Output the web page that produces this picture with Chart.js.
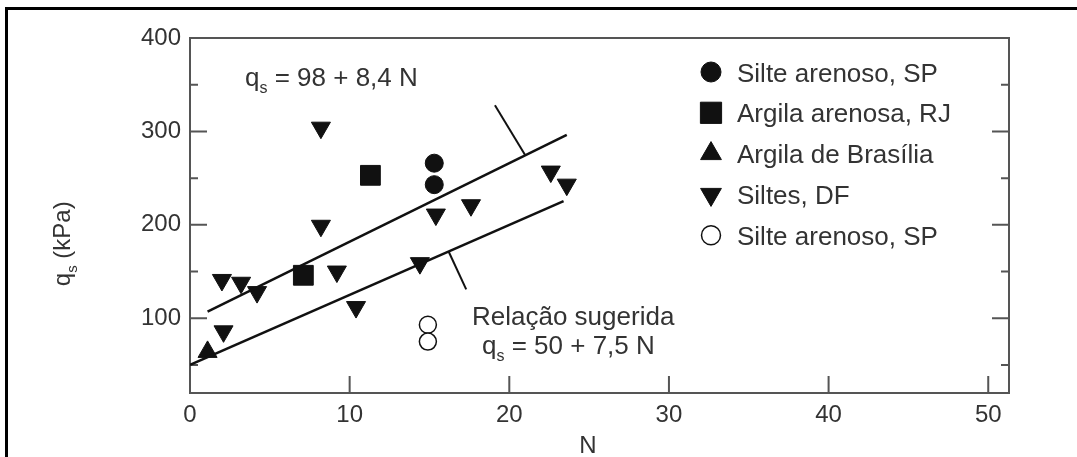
<!DOCTYPE html>
<html>
<head>
<meta charset="utf-8">
<script src="https://cdn.jsdelivr.net/npm/chart.js@4.4.1/dist/chart.umd.min.js"></script>
<style>
  html, body { margin: 0; padding: 0; background: #fff; }
  #wrap { width: 1077px; height: 457px; }
</style>
</head>
<body>
<div id="wrap"><canvas id="qsChart" width="1077" height="457"></canvas></div>
<script>
const FONTE = "'Liberation Sans', Arial, Helvetica, sans-serif";
const TINTA = "#111";
const TEXTO = "#333";
const MOLDURA = "#555";

// eixos
const xTicks = [0, 10, 20, 30, 40, 50];
const yTicks = [100, 200, 300, 400];
const yTicksMenores = [50, 150, 250, 350];

// pontos medidos: N (SPT) x qs (kPa)
const silteArenosoSP = [
  { x: 15.3, y: 266 },
  { x: 15.3, y: 243 },
];
const argilaArenosaRJ = [
  { x: 11.3, y: 253 },
  { x: 7.1, y: 146 },
];
const argilaBrasilia = [{ x: 1.1, y: 64 }];
const siltesDF = [
  { x: 8.2, y: 304 },
  { x: 8.2, y: 199 },
  { x: 2.0, y: 141 },
  { x: 3.2, y: 138 },
  { x: 4.2, y: 128 },
  { x: 9.2, y: 150 },
  { x: 10.4, y: 112 },
  { x: 2.1, y: 86 },
  { x: 14.4, y: 159 },
  { x: 15.4, y: 211 },
  { x: 17.6, y: 221 },
  { x: 22.6, y: 257 },
  { x: 23.6, y: 243 },
];
const silteArenosoSPAberto = [
  { x: 14.9, y: 93 },
  { x: 14.9, y: 75 },
];

// retas: qs = 98 + 8,4 N e qs = 50 + 7,5 N (extremos)
const retaSuperior = [
  { x: 1.1, y: 107.2 },
  { x: 23.6, y: 296.2 },
];
const retaSugerida = [
  { x: 0, y: 50 },
  { x: 23.4, y: 225.5 },
];
// traços de chamada das retas
const tracoSuperior = [
  { x: 19.1, y: 328 },
  { x: 21.0, y: 274.4 },
];
const tracoInferior = [
  { x: 16.2, y: 171.5 },
  { x: 17.3, y: 131 },
];

function textoQs(ctx, x, y, resto, tam) {
  ctx.font = `${tam}px ${FONTE}`;
  ctx.fillText("q", x, y);
  let w = ctx.measureText("q").width;
  ctx.font = `${Math.round(tam * 0.62)}px ${FONTE}`;
  ctx.fillText("s", x + w, y + tam * 0.28);
  w += ctx.measureText("s").width;
  ctx.font = `${tam}px ${FONTE}`;
  ctx.fillText(resto, x + w, y);
}

const molduraPlugin = {
  id: "moldura",
  beforeDraw(chart) {
    const ctx = chart.ctx;
    ctx.save();
    ctx.fillStyle = "#fff";
    ctx.fillRect(0, 0, chart.width, chart.height);
    ctx.strokeStyle = "#000";
    ctx.lineWidth = 3;
    ctx.beginPath();
    ctx.moveTo(6.5, chart.height);
    ctx.lineTo(6.5, 8.5);
    ctx.lineTo(chart.width, 8.5);
    ctx.stroke();
    ctx.restore();
  },
  beforeDatasetsDraw(chart) {
    const { ctx, chartArea: a, scales } = chart;
    ctx.save();
    ctx.strokeStyle = MOLDURA;
    ctx.lineWidth = 2;
    ctx.strokeRect(a.left, a.top, a.right - a.left, a.bottom - a.top);
    ctx.beginPath();
    xTicks.forEach((v) => {
      if (v === 0) return;
      const px = scales.x.getPixelForValue(v);
      ctx.moveTo(px, a.bottom);
      ctx.lineTo(px, a.bottom - 17);
    });
    yTicks.forEach((v) => {
      if (v >= 400) return;
      const py = scales.y.getPixelForValue(v);
      ctx.moveTo(a.left, py);
      ctx.lineTo(a.left + 17, py);
      ctx.moveTo(a.right, py);
      ctx.lineTo(a.right - 17, py);
    });
    yTicksMenores.forEach((v) => {
      const py = scales.y.getPixelForValue(v);
      ctx.moveTo(a.left, py);
      ctx.lineTo(a.left + 8, py);
      ctx.moveTo(a.right, py);
      ctx.lineTo(a.right - 8, py);
    });
    ctx.stroke();
    ctx.restore();
  },
  afterDraw(chart) {
    const ctx = chart.ctx;
    ctx.save();
    ctx.fillStyle = TEXTO;
    ctx.textAlign = "left";
    ctx.textBaseline = "alphabetic";

    // equações
    textoQs(ctx, 245, 86, " = 98 + 8,4 N", 26);
    ctx.font = `26px ${FONTE}`;
    ctx.fillText("Relação sugerida", 472, 325);
    textoQs(ctx, 482, 354, " = 50 + 7,5 N", 26);

    // título do eixo x
    ctx.font = `24px ${FONTE}`;
    ctx.textAlign = "center";
    ctx.fillText("N", 588, 453);

    // título do eixo y
    ctx.save();
    ctx.translate(70, 243);
    ctx.rotate(-Math.PI / 2);
    ctx.textAlign = "left";
    ctx.font = `24px ${FONTE}`;
    const larg = ctx.measureText("q").width + ctx.measureText(" (kPa)").width + 9;
    textoQs(ctx, -larg / 2, 0, " (kPa)", 24);
    ctx.restore();

    // legenda
    let linha = 0;
    chart.data.datasets.forEach((ds) => {
      if (!ds.legenda) return;
      const y = 72 + linha * 40.8;
      ctx.fillStyle = ds.backgroundColor;
      ctx.strokeStyle = ds.borderColor;
      ctx.lineWidth = ds.borderWidth;
      Chart.helpers.drawPoint(
        ctx,
        {
          pointStyle: ds.pointStyle,
          rotation: ds.pointRotation || 0,
          radius: ds.pointRadius + 1,
          borderWidth: ds.borderWidth,
        },
        711,
        y
      );
      ctx.fillStyle = TEXTO;
      ctx.textAlign = "left";
      ctx.font = `26px ${FONTE}`;
      ctx.fillText(ds.label, 737, y + 9.5);
      linha++;
    });
    ctx.restore();
  },
};

function pontos(label, data, estilo) {
  return Object.assign(
    {
      label: label,
      data: data,
      legenda: true,
      backgroundColor: TINTA,
      borderColor: TINTA,
      borderWidth: 1,
      pointRotation: 0,
    },
    estilo
  );
}

function reta(data, largura) {
  return {
    data: data,
    showLine: true,
    borderColor: TINTA,
    borderWidth: largura,
    pointRadius: 0,
    fill: false,
  };
}

new Chart(document.getElementById("qsChart").getContext("2d"), {
  type: "scatter",
  data: {
    datasets: [
      reta(retaSuperior, 2.5),
      reta(retaSugerida, 2.5),
      reta(tracoSuperior, 2),
      reta(tracoInferior, 2),
      pontos("Silte arenoso, SP", silteArenosoSP, { pointStyle: "circle", pointRadius: 9 }),
      pontos("Argila arenosa, RJ", argilaArenosaRJ, { pointStyle: "rect", pointRadius: 14 }),
      pontos("Argila de Brasília", argilaBrasilia, { pointStyle: "triangle", pointRadius: 11 }),
      pontos("Siltes, DF", siltesDF, { pointStyle: "triangle", pointRadius: 11, pointRotation: 180 }),
      pontos("Silte arenoso, SP", silteArenosoSPAberto, {
        pointStyle: "circle",
        pointRadius: 8.5,
        backgroundColor: "#fff",
        borderWidth: 1.5,
      }),
    ],
  },
  options: {
    responsive: false,
    devicePixelRatio: 1,
    animation: false,
    events: [],
    layout: { padding: { top: 38, right: 68, left: 0, bottom: 0 } },
    plugins: {
      legend: { display: false },
      tooltip: { enabled: false },
    },
    scales: {
      x: {
        type: "linear",
        min: 0,
        max: 51.3,
        afterBuildTicks: (scale) => {
          scale.ticks = xTicks.map((v) => ({ value: v }));
        },
        afterFit: (scale) => {
          scale.height = 64;
        },
        grid: { display: false, drawTicks: false },
        border: { display: false },
        ticks: {
          autoSkip: false,
          maxRotation: 0,
          padding: 8,
          color: TEXTO,
          font: { family: FONTE, size: 24 },
        },
      },
      y: {
        type: "linear",
        min: 20,
        max: 400,
        afterBuildTicks: (scale) => {
          scale.ticks = yTicks.map((v) => ({ value: v }));
        },
        afterFit: (scale) => {
          scale.width = 190;
        },
        grid: { display: false, drawTicks: false },
        border: { display: false },
        ticks: {
          autoSkip: false,
          padding: 9,
          color: TEXTO,
          font: { family: FONTE, size: 24 },
        },
      },
    },
  },
  plugins: [molduraPlugin],
});
</script>
</body>
</html>
